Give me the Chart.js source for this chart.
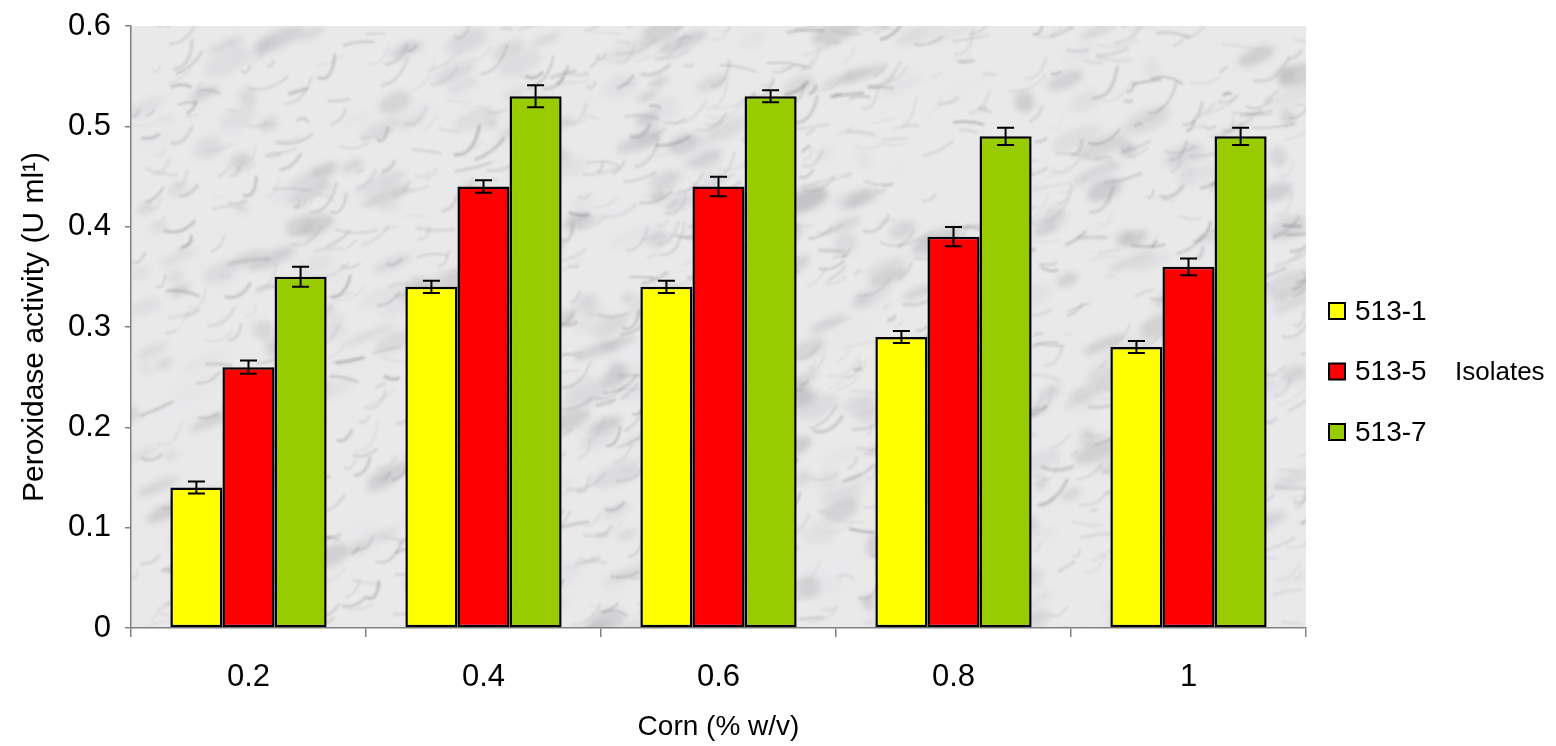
<!DOCTYPE html>
<html>
<head>
<meta charset="utf-8">
<script src="https://cdn.jsdelivr.net/npm/chart.js@4.4.1/dist/chart.umd.min.js"></script>
<style>
  html, body { margin: 0; padding: 0; background: #fff; }
  #wrap { width: 1556px; height: 746px; }
</style>
</head>
<body>
<div id="wrap"><canvas id="chart"></canvas></div>
<script>
var categories = ["0.2", "0.4", "0.6", "0.8", "1"];
var seriesNames = ["513-1", "513-5", "513-7"];
var values513_1 = [0.14, 0.34, 0.34, 0.29, 0.28];
var values513_5 = [0.26, 0.44, 0.44, 0.39, 0.36];
var values513_7 = [0.35, 0.53, 0.53, 0.49, 0.49];
var errors513_1 = [0.006, 0.006, 0.006, 0.006, 0.006];
var errors513_5 = [0.0065, 0.0063, 0.0097, 0.0096, 0.0083];
var errors513_7 = [0.01, 0.011, 0.006, 0.0086, 0.0086];
var yTicks = [0, 0.1, 0.2, 0.3, 0.4, 0.5, 0.6];

var colors = ["#ffff00", "#ff0000", "#99cc00"];
var allValues = [values513_1, values513_5, values513_7];
var allErrors = [errors513_1, errors513_5, errors513_7];

Chart.defaults.font.family = "'Liberation Sans', Arial, sans-serif";
Chart.defaults.color = "#000";

// marble-ish background for the plot area
function makeMarble(w, h) {
  var c = document.createElement("canvas");
  c.width = w; c.height = h;
  var g = c.getContext("2d");
  g.fillStyle = "#e9e9ea";
  g.fillRect(0, 0, w, h);
  function hash(n) { var s = Math.sin(n * 12.9898) * 43758.5453; return s - Math.floor(s); }
  g.filter = "blur(3px)";
  for (var k = 0; k < 500; k++) {
    var bx = hash(k + 501) * w, by = hash(k + 603) * h;
    var sh = Math.floor(180 + hash(k + 705) * 55);
    g.fillStyle = "rgba(" + sh + "," + sh + "," + (sh + 3) + ",0.5)";
    g.beginPath();
    g.ellipse(bx, by, 6 + hash(k + 807) * 22, 3 + hash(k + 909) * 8, -0.4, 0, Math.PI * 2);
    g.fill();
  }
  g.filter = "blur(1px)";
  for (var i = 0; i < 1100; i++) {
    var x = hash(i + 1) * w, y = hash(i + 7.3) * h;
    var len = 8 + hash(i + 3.1) * 35;
    var ang = -0.4 + (hash(i + 5.7) - 0.5) * 1.2;
    var shade = Math.floor(120 + hash(i + 9.9) * 80);
    g.strokeStyle = "rgba(" + shade + "," + shade + "," + (shade + 4) + "," + (0.15 + hash(i + 2.2) * 0.25) + ")";
    g.lineWidth = 1 + hash(i + 4.4) * 2.5;
    g.beginPath();
    g.moveTo(x, y);
    g.quadraticCurveTo(x + len * 0.5, y + (hash(i + 6.6) - 0.5) * 14, x + Math.cos(ang) * len, y + Math.sin(ang) * len);
    g.stroke();
  }
  g.filter = "none";
  return c;
}

var bgPlugin = {
  id: "plotBg",
  beforeDraw: function(chart) {
    var a = chart.chartArea, ctx = chart.ctx;
    if (!chart._marble) chart._marble = makeMarble(Math.round(a.right - a.left), Math.round(a.bottom - a.top));
    ctx.drawImage(chart._marble, a.left, a.top);
  }
};

var errorBarPlugin = {
  id: "errorBars",
  afterDatasetsDraw: function(chart) {
    var ctx = chart.ctx, y = chart.scales.y;
    ctx.save();
    ctx.strokeStyle = "#000";
    ctx.lineWidth = 2;
    chart.data.datasets.forEach(function(ds, di) {
      var meta = chart.getDatasetMeta(di);
      meta.data.forEach(function(bar, i) {
        var v = ds.data[i], e = allErrors[di][i];
        var top = y.getPixelForValue(v + e), bot = y.getPixelForValue(v - e);
        ctx.beginPath();
        ctx.moveTo(bar.x, top); ctx.lineTo(bar.x, bot);
        ctx.moveTo(bar.x - 8.5, top); ctx.lineTo(bar.x + 8.5, top);
        ctx.moveTo(bar.x - 8.5, bot); ctx.lineTo(bar.x + 8.5, bot);
        ctx.stroke();
      });
    });
    ctx.restore();
  }
};

var legendPlugin = {
  id: "sideLegend",
  afterDraw: function(chart) {
    var ctx = chart.ctx;
    ctx.save();
    ctx.font = "28px 'Liberation Sans', Arial, sans-serif";
    ctx.textBaseline = "middle";
    seriesNames.forEach(function(name, i) {
      var cy = 311 + i * 60.5;
      ctx.fillStyle = colors[i];
      ctx.fillRect(1329, cy - 8, 16, 16);
      ctx.strokeStyle = "#000";
      ctx.lineWidth = 2;
      ctx.strokeRect(1329, cy - 8, 16, 16);
      ctx.fillStyle = "#000";
      ctx.fillText(name, 1355, cy + 1);
    });
    ctx.font = "26px 'Liberation Sans', Arial, sans-serif";
    ctx.fillText("Isolates", 1455, 373);
    ctx.restore();
  }
};

var datasets = seriesNames.map(function(name, i) {
  return {
    label: name,
    data: allValues[i],
    backgroundColor: colors[i],
    borderColor: "#000",
    borderWidth: 2.5,
    borderSkipped: false,
    categoryPercentage: 0.665,
    barPercentage: 1.0
  };
});

new Chart(document.getElementById("chart").getContext("2d"), {
  type: "bar",
  data: { labels: categories, datasets: datasets },
  plugins: [bgPlugin, errorBarPlugin, legendPlugin],
  options: {
    responsive: true,
    maintainAspectRatio: false,
    animation: false,
    layout: { padding: { top: 26, right: 250, left: 0, bottom: 0 } },
    plugins: { legend: { display: false }, tooltip: { enabled: false } },
    scales: {
      x: {
        grid: { offset: true, drawOnChartArea: false, drawTicks: true, tickLength: 9, color: "#808080", lineWidth: 1.5 },
        border: { color: "#808080", width: 1.5 },
        ticks: { font: { size: 31 }, padding: 22, color: "#000" },
        title: { display: true, text: "Corn (% w/v)", font: { size: 28 }, padding: { top: 0, bottom: 2 } },
        afterFit: function(scale) { scale.height = 118; scale.paddingLeft = 0; scale.paddingRight = 0; }
      },
      y: {
        min: 0,
        max: 0.6,
        afterBuildTicks: function(scale) { scale.ticks = yTicks.map(function(v) { return { value: v }; }); },
        grid: { drawOnChartArea: false, drawTicks: true, tickLength: 6, color: "#808080", lineWidth: 1.5 },
        border: { color: "#808080", width: 1.5 },
        ticks: { font: { size: 31 }, padding: 14, color: "#000", callback: function(v) { return String(Math.round(v * 10) / 10); } },
        title: { display: true, text: "Peroxidase activity (U ml\u00b9)", font: { size: 30 }, padding: { top: 17, bottom: 0 } },
        afterFit: function(scale) { scale.width = 131; scale.paddingTop = 0; scale.paddingBottom = 0; }
      }
    }
  }
});
</script>
</body>
</html>
